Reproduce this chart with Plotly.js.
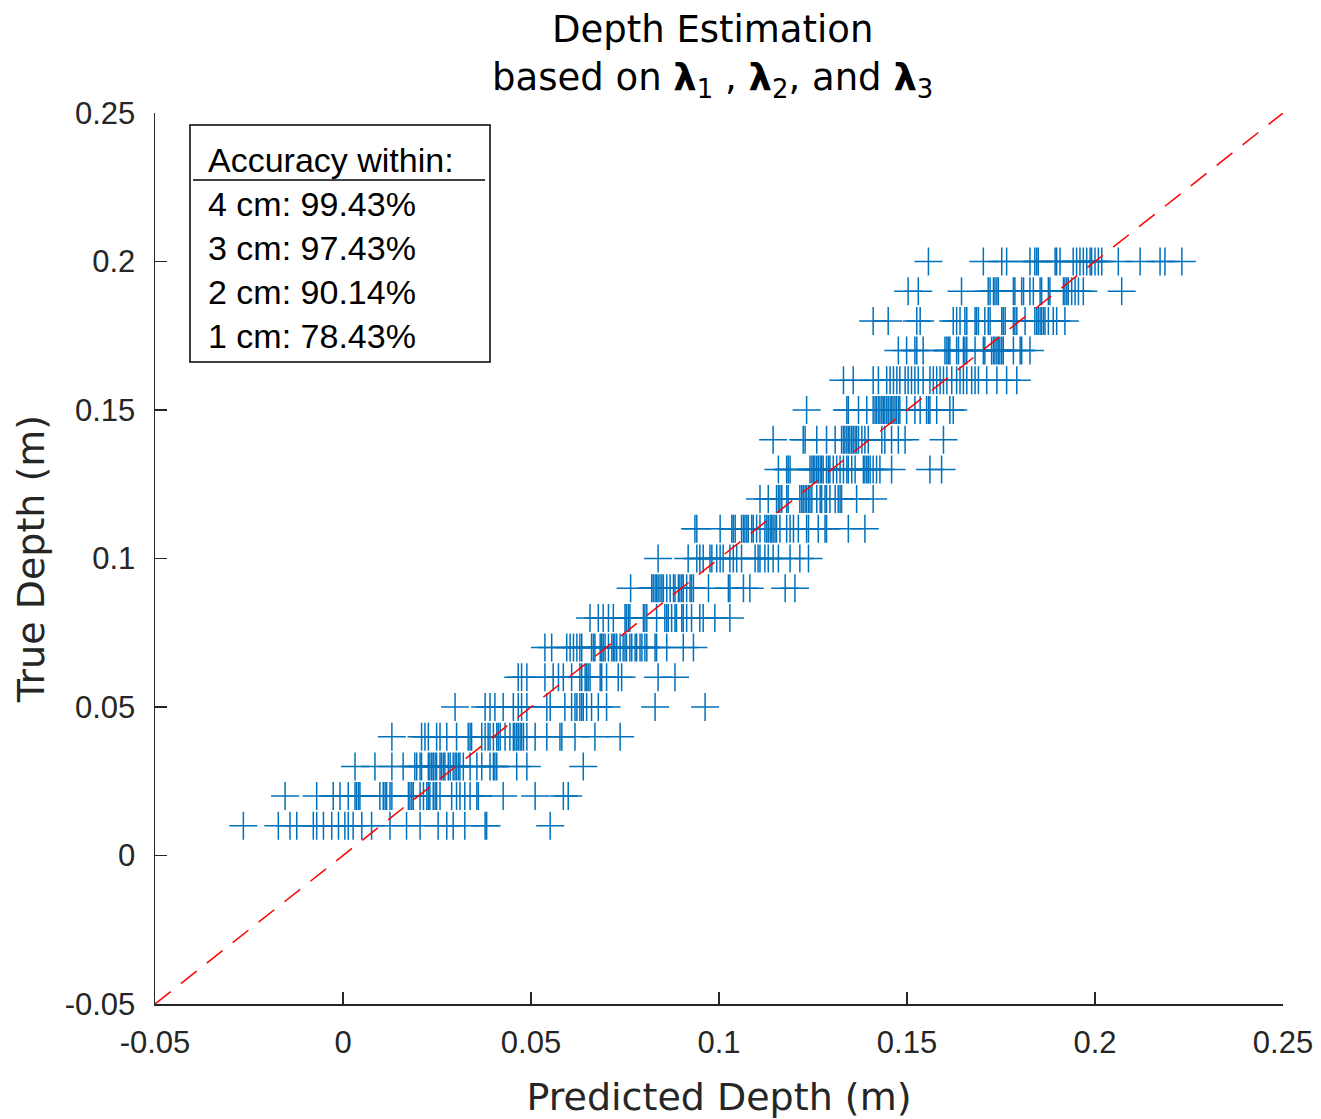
<!DOCTYPE html>
<html>
<head>
<meta charset="utf-8">
<script src="https://cdn.plot.ly/plotly-3.0.1.min.js"></script>
<style>html,body{margin:0;padding:0;background:#fff;}#chart{width:1321px;height:1119px;}</style>
</head>
<body>
<div id="chart"></div>
<script>
// True depth levels (m)
const trueDepths = [0.01,0.02,0.03,0.04,0.05,0.06,0.07,0.08,0.09,0.10,0.11,0.12,0.13,0.14,0.15,0.16,0.17,0.18,0.19,0.20];

// Predicted depths (m) for each true-depth level
const pred010 = [-0.0265,-0.0172,-0.0141,-0.0123,-0.0079,-0.0070,-0.0052,-0.0030,-0.0012,0.0005,0.0014,0.0027,0.0050,0.0076,0.0125,0.0169,0.0205,0.0253,0.0276,0.0293,0.0324,0.0378,0.0382,0.0551];
const pred020 = [-0.0154,-0.0070,-0.0026,-0.0008,0.0014,0.0032,0.0036,0.0041,0.0045,0.0098,0.0107,0.0112,0.0116,0.0125,0.0130,0.0174,0.0178,0.0183,0.0187,0.0205,0.0214,0.0223,0.0227,0.0231,0.0240,0.0245,0.0249,0.0258,0.0289,0.0302,0.0311,0.0324,0.0338,0.0356,0.0360,0.0426,0.0511,0.0586,0.0599];
const pred030 = [0.0032,0.0085,0.0130,0.0160,0.0191,0.0196,0.0205,0.0209,0.0227,0.0231,0.0236,0.0240,0.0245,0.0249,0.0258,0.0262,0.0267,0.0271,0.0280,0.0285,0.0293,0.0298,0.0302,0.0307,0.0311,0.0320,0.0338,0.0356,0.0369,0.0391,0.0400,0.0404,0.0409,0.0462,0.0489,0.0639];
const pred040 = [0.0130,0.0209,0.0218,0.0227,0.0249,0.0258,0.0276,0.0302,0.0333,0.0338,0.0342,0.0369,0.0378,0.0386,0.0391,0.0400,0.0409,0.0413,0.0418,0.0431,0.0444,0.0453,0.0457,0.0462,0.0466,0.0471,0.0475,0.0480,0.0489,0.0511,0.0542,0.0577,0.0582,0.0617,0.0670,0.0737];
const pred050 = [0.0298,0.0378,0.0391,0.0404,0.0426,0.0453,0.0466,0.0475,0.0489,0.0542,0.0551,0.0590,0.0608,0.0617,0.0622,0.0630,0.0635,0.0639,0.0648,0.0661,0.0679,0.0701,0.0830,0.0963];
const pred060 = [0.0466,0.0475,0.0489,0.0537,0.0559,0.0573,0.0586,0.0608,0.0630,0.0635,0.0644,0.0648,0.0652,0.0657,0.0684,0.0688,0.0701,0.0732,0.0741,0.0838,0.0883];
const pred070 = [0.0537,0.0555,0.0595,0.0604,0.0613,0.0622,0.0630,0.0635,0.0661,0.0666,0.0670,0.0684,0.0688,0.0692,0.0697,0.0706,0.0715,0.0719,0.0723,0.0728,0.0737,0.0745,0.0750,0.0754,0.0763,0.0768,0.0777,0.0781,0.0790,0.0795,0.0803,0.0808,0.0830,0.0834,0.0861,0.0905,0.0932];
const pred080 = [0.0657,0.0679,0.0692,0.0706,0.0719,0.0750,0.0754,0.0759,0.0763,0.0799,0.0803,0.0808,0.0834,0.0856,0.0861,0.0865,0.0874,0.0883,0.0887,0.0901,0.0905,0.0914,0.0927,0.0949,0.0958,0.0989,0.1029];
const pred090 = [0.0765,0.0821,0.0825,0.0830,0.0834,0.0838,0.0843,0.0848,0.0852,0.0861,0.0870,0.0879,0.0883,0.0892,0.0896,0.0901,0.0905,0.0914,0.0923,0.0927,0.0932,0.0972,0.1025,0.1029,0.1065,0.1082,0.1176,0.1202];
const pred100 = [0.0838,0.0918,0.0941,0.0949,0.0958,0.0976,0.0981,0.0994,0.1003,0.1011,0.1029,0.1038,0.1047,0.1060,0.1096,0.1104,0.1109,0.1122,0.1131,0.1144,0.1158,0.1189,0.1215,0.1238];
const pred110 = [0.0936,0.0941,0.1003,0.1034,0.1038,0.1043,0.1060,0.1065,0.1069,0.1074,0.1078,0.1087,0.1091,0.1100,0.1109,0.1122,0.1127,0.1131,0.1136,0.1140,0.1144,0.1149,0.1153,0.1162,0.1180,0.1189,0.1198,0.1211,0.1233,0.1238,0.1264,0.1282,0.1286,0.1344,0.1388];
const pred120 = [0.1109,0.1131,0.1153,0.1158,0.1162,0.1167,0.1180,0.1184,0.1215,0.1220,0.1224,0.1229,0.1233,0.1238,0.1242,0.1247,0.1260,0.1269,0.1273,0.1282,0.1286,0.1295,0.1309,0.1317,0.1322,0.1326,0.1366,0.1410];
const pred130 = [0.1158,0.1180,0.1184,0.1189,0.1242,0.1247,0.1251,0.1255,0.1260,0.1264,0.1269,0.1273,0.1277,0.1286,0.1291,0.1295,0.1304,0.1313,0.1322,0.1331,0.1340,0.1344,0.1353,0.1362,0.1384,0.1388,0.1393,0.1397,0.1402,0.1410,0.1419,0.1428,0.1459,0.1561,0.1592];
const pred140 = [0.1144,0.1224,0.1229,0.1260,0.1286,0.1309,0.1326,0.1331,0.1335,0.1340,0.1344,0.1348,0.1353,0.1357,0.1362,0.1366,0.1371,0.1380,0.1388,0.1397,0.1433,0.1441,0.1459,0.1477,0.1495,0.1597];
const pred150 = [0.1233,0.1340,0.1344,0.1371,0.1393,0.1410,0.1415,0.1419,0.1424,0.1428,0.1433,0.1437,0.1441,0.1446,0.1450,0.1455,0.1459,0.1463,0.1468,0.1472,0.1477,0.1481,0.1499,0.1521,0.1535,0.1552,0.1557,0.1561,0.1579,0.1614,0.1623];
const pred160 = [0.1331,0.1357,0.1410,0.1424,0.1446,0.1455,0.1464,0.1473,0.1481,0.1495,0.1503,0.1512,0.1521,0.1530,0.1543,0.1561,0.1570,0.1579,0.1588,0.1597,0.1606,0.1619,0.1632,0.1641,0.1650,0.1659,0.1672,0.1681,0.1690,0.1712,0.1739,0.1765,0.1792];
const pred170 = [0.1477,0.1499,0.1521,0.1526,0.1543,0.1601,0.1606,0.1610,0.1614,0.1632,0.1637,0.1650,0.1654,0.1659,0.1681,0.1703,0.1707,0.1725,0.1730,0.1734,0.1739,0.1743,0.1747,0.1752,0.1756,0.1783,0.1801,0.1805,0.1827];
const pred180 = [0.1410,0.1450,0.1526,0.1535,0.1623,0.1632,0.1641,0.1654,0.1659,0.1681,0.1685,0.1690,0.1707,0.1716,0.1721,0.1752,0.1756,0.1761,0.1783,0.1787,0.1792,0.1814,0.1840,0.1845,0.1849,0.1854,0.1858,0.1863,0.1867,0.1876,0.1889,0.1898,0.1920];
const pred190 = [0.1503,0.1530,0.1645,0.1716,0.1721,0.1730,0.1734,0.1739,0.1743,0.1783,0.1787,0.1805,0.1810,0.1827,0.1836,0.1854,0.1858,0.1876,0.1880,0.1916,0.1920,0.1925,0.1929,0.1938,0.1947,0.1956,0.1969,0.2071];
const pred200 = [0.1557,0.1703,0.1752,0.1765,0.1827,0.1840,0.1845,0.1849,0.1894,0.1898,0.1907,0.1942,0.1951,0.1960,0.1969,0.1978,0.1987,0.1991,0.2000,0.2009,0.2018,0.2062,0.2120,0.2173,0.2186,0.2231];

const predByLevel = [pred010,pred020,pred030,pred040,pred050,pred060,pred070,pred080,pred090,pred100,
                     pred110,pred120,pred130,pred140,pred150,pred160,pred170,pred180,pred190,pred200];

// Ideal line endpoints
const idealX = [-0.05, 0.25];
const idealY = [-0.05, 0.25];

// Tick values / labels
const tickVals = [-0.05, 0, 0.05, 0.1, 0.15, 0.2, 0.25];
const tickText = ['-0.05', '0', '0.05', '0.1', '0.15', '0.2', '0.25'];

// Accuracy box text
const accHeader = 'Accuracy within:';
const accLines = ['4 cm: 99.43%', '3 cm: 97.43%', '2 cm: 90.14%', '1 cm: 78.43%'];

const xs = [], ys = [];
predByLevel.forEach((arr, i) => arr.forEach(v => { xs.push(v); ys.push(trueDepths[i]); }));

const titleFamily = 'DejaVu Sans, Verdana, sans-serif';

const axisCommon = {
  range: [-0.05, 0.25],
  tickvals: tickVals,
  ticktext: tickText,
  showgrid: false,
  zeroline: false,
  showline: true,
  linecolor: '#262626',
  linewidth: 1.5,
  ticks: 'inside',
  ticklen: 12,
  tickwidth: 1.5,
  tickcolor: '#262626',
  tickfont: {family: 'Liberation Sans, Arial, sans-serif', size: 31, color: '#262626'},
  mirror: false,
  fixedrange: true
};

const traces = [
  {
    x: xs, y: ys, type: 'scatter', mode: 'markers',
    marker: {symbol: 'cross-thin-open', size: 20, color: '#0072BD', line: {color: '#0072BD', width: 1.5}},
    hoverinfo: 'skip', showlegend: false
  },
  {
    x: idealX, y: idealY, type: 'scatter', mode: 'lines',
    line: {color: '#FF0000', width: 1.5, dash: '20px,13px'},
    hoverinfo: 'skip', showlegend: false
  }
];

const annFont = {family: 'Liberation Sans, Arial, sans-serif', size: 34, color: '#000000'};
const lineYs = [0.8979, 0.8485, 0.7991, 0.7497];
const annotations = [{
  xref: 'paper', yref: 'paper', x: 0.045, y: 0.9473, xanchor: 'left', yanchor: 'middle',
  text: accHeader, showarrow: false, font: annFont
}].concat(accLines.map((t, i) => ({
  xref: 'paper', yref: 'paper', x: 0.045, y: lineYs[i], xanchor: 'left', yanchor: 'middle',
  text: t, showarrow: false, font: annFont
})));

const layout = {
  width: 1321, height: 1119,
  margin: {l: 155, r: 38, t: 113, b: 115},
  paper_bgcolor: '#ffffff', plot_bgcolor: '#ffffff',
  title: {
    text: 'Depth Estimation<br>based on <b>λ</b><sub>1</sub> , <b>λ</b><sub>2</sub>, and <b>λ</b><sub>3</sub>',
    font: {family: titleFamily, size: 37, color: '#000000'},
    x: 0.5395, xanchor: 'center', xref: 'container',
    y: 0.9625, yanchor: 'top', yref: 'container'
  },
  xaxis: Object.assign({}, axisCommon, {
    title: {text: 'Predicted Depth (m)', font: {family: titleFamily, size: 38, color: '#262626'}, standoff: 26},
    ticklabelstandoff: 10
  }),
  yaxis: Object.assign({}, axisCommon, {
    title: {text: 'True Depth (m)', font: {family: titleFamily, size: 38, color: '#262626'}, standoff: 8},
    ticklabelstandoff: 12
  }),
  shapes: [
    {type: 'rect', xref: 'paper', yref: 'paper', x0: 0.031, x1: 0.297, y0: 0.7205, y1: 0.9865,
     line: {color: '#000000', width: 1.5}, fillcolor: '#ffffff', layer: 'above'},
    {type: 'line', xref: 'paper', yref: 'paper', x0: 0.0337, x1: 0.2926, y0: 0.9248, y1: 0.9248,
     line: {color: '#000000', width: 1.5}, layer: 'above'}
  ],
  annotations: annotations,
  showlegend: false
};

Plotly.newPlot('chart', traces, layout, {displayModeBar: false, staticPlot: true});
</script>
</body>
</html>
